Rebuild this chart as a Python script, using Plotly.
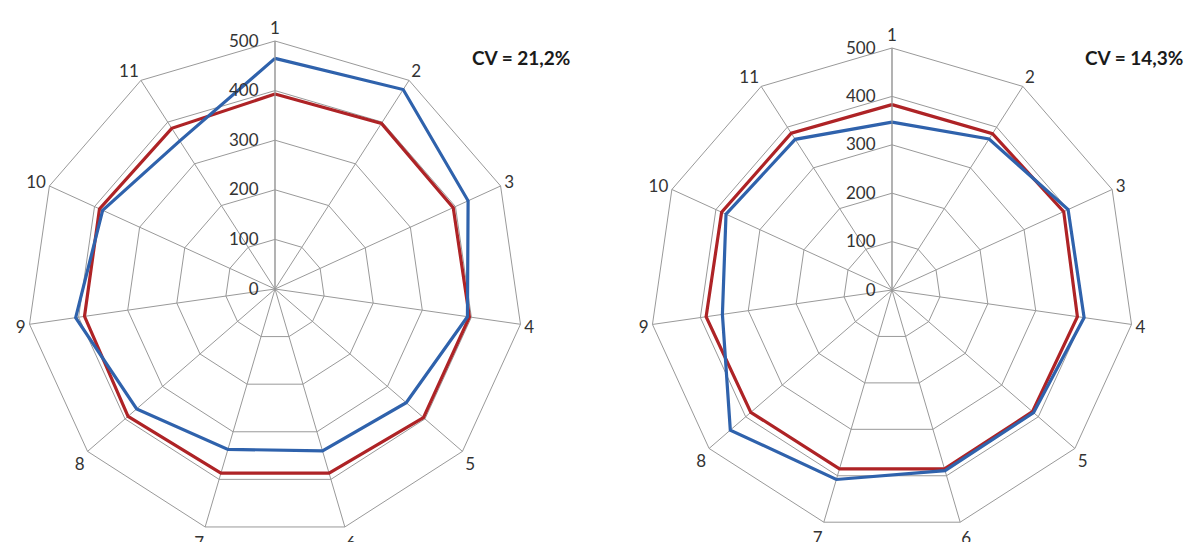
import plotly.graph_objects as go

categories = ["1", "2", "3", "4", "5", "6", "7", "8", "9", "10", "11"]

left_blue = [465, 478, 428, 392, 350, 340, 337, 369, 406, 382, 355]
left_red = [393, 397, 395, 396, 396, 387, 387, 392, 388, 389, 385]

right_blue = [347, 371, 400, 401, 387, 389, 408, 442, 354, 377, 370]
right_red = [383, 384, 390, 387, 384, 385, 385, 386, 388, 387, 385]

cv_labels = ["CV = 21,2%", "CV = 14,3%"]
radial_ticks = [0, 100, 200, 300, 400, 500]

BLUE = "#2F62AC"
RED = "#AE2326"
GRID = "#999999"
TEXT = "#333333"
FONT = "Lato"
CLEAR = "rgba(0,0,0,0)"

# page offset caused by default body margin
OFF = 8


def closed(vals):
    return list(vals) + [vals[0]]


theta = closed(categories)

fig = go.Figure()
for sub, (blue, red) in zip(["polar", "polar2"], [(left_blue, left_red), (right_blue, right_red)]):
    fig.add_trace(go.Scatterpolar(r=closed(red), theta=theta, mode="lines",
                                  line=dict(color=RED, width=3.2), subplot=sub,
                                  showlegend=False, hoverinfo="skip"))
    fig.add_trace(go.Scatterpolar(r=closed(blue), theta=theta, mode="lines",
                                  line=dict(color=BLUE, width=3.2), subplot=sub,
                                  showlegend=False, hoverinfo="skip"))

W, H = 1195 - OFF, 542 - OFF


def polar_cfg(cx, cy, rad):
    cx -= OFF
    cy -= OFF
    x0 = (cx - rad) / W
    x1 = (cx + rad) / W
    yb = H - cy
    y0 = (yb - rad) / H
    y1 = (yb + rad) / H
    return dict(
        domain=dict(x=[x0, x1], y=[y0, y1]),
        gridshape="linear",
        bgcolor="white",
        radialaxis=dict(range=[0, 500], tickvals=radial_ticks,
                        ticktext=[str(v) for v in radial_ticks],
                        angle=90, tickangle=90, side="counterclockwise",
                        showline=True, linecolor=GRID, linewidth=1,
                        gridcolor=GRID, gridwidth=1,
                        ticks="outside", ticklen=10, tickcolor=CLEAR,
                        tickfont=dict(family=FONT, size=17, color=TEXT)),
        angularaxis=dict(categoryorder="array", categoryarray=categories,
                         rotation=90, direction="clockwise",
                         showline=True, linecolor=GRID, linewidth=1,
                         gridcolor=GRID, gridwidth=1, ticks="",
                         tickfont=dict(family=FONT, size=17, color=TEXT)),
    )


fig.update_layout(
    width=W, height=H,
    margin=dict(l=0, r=0, t=0, b=0),
    paper_bgcolor="white",
    polar=polar_cfg(275, 289, 248),
    polar2=polar_cfg(892, 290, 242),
    annotations=[
        dict(text="<b>" + cv_labels[0] + "</b>", x=(521 - OFF) / W, y=1 - (57 - OFF) / H,
             xref="paper", yref="paper", xanchor="center", yanchor="middle",
             showarrow=False, font=dict(family=FONT, size=19, color="#1a1a1a")),
        dict(text="<b>" + cv_labels[1] + "</b>", x=(1134 - OFF) / W, y=1 - (57 - OFF) / H,
             xref="paper", yref="paper", xanchor="center", yanchor="middle",
             showarrow=False, font=dict(family=FONT, size=19, color="#1a1a1a")),
    ],
)

fig.write_html("out.html")
